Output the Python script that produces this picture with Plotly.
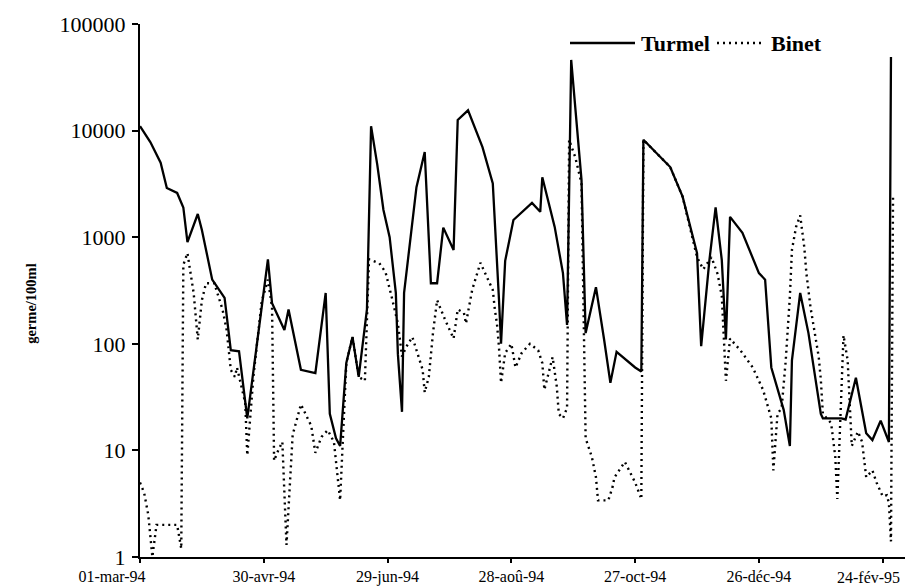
import pandas as pd
import plotly.graph_objects as go

start = pd.Timestamp("1994-03-01")

# Turmel (solid) : day offset from 01-mar-94, germe/100ml
turmel_days = [0, 5, 10, 13, 18, 21, 23, 28, 30, 35, 41, 44, 48, 51, 52, 62, 64, 70, 72, 78,
               85, 90, 92, 95, 97, 100, 103, 106, 110, 112, 115, 118, 121, 124, 125, 127, 128, 134, 138, 141,
               144, 147, 152, 154, 159, 166, 171, 174, 175, 177, 181, 190, 194, 195, 201, 205, 207, 209, 214, 216,
               221, 225, 228, 231, 240, 243, 244, 257, 263, 270, 272, 276, 279, 282, 284, 286, 292, 300, 303, 306,
               312, 315, 316, 320, 324, 330, 331, 340, 342, 347, 352, 355, 359, 363, 364]
turmel_vals = [11000, 7800, 5000, 2900, 2600, 1900, 900, 1650, 1170, 400, 270, 87, 85, 30, 20, 620, 240, 135, 210, 57,
               53, 300, 22, 13, 11, 66, 116, 49, 210, 11000, 4800, 1800, 1000, 300, 80, 23, 300, 2950, 6300, 370,
               370, 1230, 760, 12600, 15500, 7000, 3200, 260, 100, 600, 1450, 2100, 1730, 3650, 1250, 460, 150, 46000, 3450, 126,
               340, 108, 43, 84, 60, 55, 8200, 4550, 2400, 710, 95, 610, 1900, 610, 110, 1550, 1100, 460, 400, 60,
               24, 11, 70, 300, 126, 22, 20, 20, 19.5, 48, 14.5, 12.5, 19, 12, 49000]

# Binet (dotted)
binet_days = [0, 2, 4, 6, 8, 18, 20, 21, 23, 25, 26, 28, 30, 32, 36, 40, 42, 44, 46, 47,
              51, 52, 55, 59, 62, 64, 65, 67, 69, 71, 74, 78, 83, 85, 88, 91, 94, 97, 99, 100,
              103, 106, 109, 111, 116, 119, 122, 125, 127, 129, 132, 134, 137, 138, 140, 142, 144, 148, 152, 154,
              157, 158, 161, 165, 167, 171, 172, 173, 174, 175, 177, 180, 182, 185, 189, 193, 195, 196, 200, 202,
              203, 205, 207, 208, 211, 214, 216, 219, 221, 222, 227, 229, 230, 235, 240, 243, 244, 257, 263, 270,
              273, 277, 280, 282, 284, 286, 291, 297, 302, 306, 307, 309, 311, 313, 315, 316, 318, 320, 322, 323,
              325, 327, 329, 330, 331, 335, 337, 338, 341, 343, 344, 345, 348, 350, 352, 355, 357, 360, 362, 363,
              364, 365]
binet_vals = [5, 4, 2.5, 1, 2, 2, 1.2, 550, 710, 425, 300, 110, 257, 370, 370, 210, 135, 57, 49, 60,
              28, 9, 50, 250, 400, 220, 8, 10, 12, 1.3, 14, 27, 17, 9.5, 13.4, 15.5, 12, 3.4, 30, 66,
              116, 49, 45, 620, 570, 470, 275, 155, 76, 93, 116, 87, 57, 35, 49, 126, 257, 166, 112, 210,
              195, 155, 320, 575, 470, 320, 210, 155, 93, 43, 82, 100, 60, 82, 100, 87, 66, 37, 75, 40,
              22, 20, 25, 8200, 5600, 3200, 13, 8.7, 5.6, 3.4, 3.4, 4.5, 5.6, 7.8, 5, 3.5, 8200, 4550, 2400, 650,
              500, 650, 450, 280, 45, 112, 87, 60, 37, 20, 6.5, 22, 25, 70, 280, 760, 1250, 1600, 800, 460,
              220, 126, 75, 46, 22, 18, 8.7, 3.5, 120, 70, 28, 11, 15, 12, 5.6, 6.5, 5, 3.7, 3.8, 3.2,
              1.4, 2500]

series_names = ["Turmel", "Binet"]
tick_days = [0, 60, 120, 180, 240, 300, 360]
tick_labels = ["01-mar-94", "30-avr-94", "29-jun-94", "28-aoû-94", "27-oct-94", "26-déc-94", "24-fév-95"]
y_ticks = [1, 10, 100, 1000, 10000, 100000]

assert len(turmel_days) == len(turmel_vals)
assert len(binet_days) == len(binet_vals)

t_dates = start + pd.to_timedelta(turmel_days, unit="D")
b_dates = start + pd.to_timedelta(binet_days, unit="D")
tick_dates = start + pd.to_timedelta(tick_days, unit="D")

NB = "\u00a0"
tick_text = list(tick_labels)
tick_text[0] = tick_text[0] + NB * 14
tick_text[-1] = ""   # last label drawn as an annotation, pulled inside the page

serif = "Liberation Serif, Times New Roman, serif"
DOT = "2px,4px"

fig = go.Figure()
fig.add_trace(go.Scatter(x=t_dates, y=turmel_vals, mode="lines", name=series_names[0],
                         line=dict(color="black", width=2.3), showlegend=False))
fig.add_trace(go.Scatter(x=b_dates, y=binet_vals, mode="lines", name=series_names[1],
                         line=dict(color="black", width=2.4, dash=DOT), showlegend=False))

# hand-built legend (long sample lines, as in the original)
PW = 765.0
def px(x):
    return (x - 140) / PW
ly = (557 - 43) / 533.0
shapes = [
    dict(type="line", xref="paper", yref="paper", x0=px(570), x1=px(635), y0=ly, y1=ly,
         line=dict(color="black", width=2.3)),
    dict(type="line", xref="paper", yref="paper", x0=px(717), x1=px(765), y0=ly, y1=ly,
         line=dict(color="black", width=2.4, dash=DOT)),
]
annotations = [
    dict(text=series_names[0], xref="paper", yref="paper", x=px(639), y=ly, xanchor="left",
         yanchor="middle", showarrow=False, font=dict(family=serif, size=22, weight="bold")),
    dict(text=series_names[1], xref="paper", yref="paper", x=px(769), y=ly, xanchor="left",
         yanchor="middle", showarrow=False, font=dict(family=serif, size=22, weight="bold")),
    dict(text="germe/100ml", xref="paper", yref="paper",
         x=px(31), y=0.475, xanchor="center", yanchor="middle", textangle=-90, showarrow=False,
         font=dict(family=serif, size=14.5, weight="bold")),
    dict(text=tick_labels[-1], xref="x", yref="paper", x=tick_dates[-1], y=0,
         xanchor="center", yanchor="middle", xshift=-14, yshift=-20, showarrow=False,
         font=dict(family=serif, size=16)),
]

fig.update_layout(
    width=918, height=588,
    margin=dict(l=140, r=13, t=24, b=31, autoexpand=False),
    paper_bgcolor="white", plot_bgcolor="white",
    font=dict(family=serif, color="black"),
    showlegend=False,
    shapes=shapes,
    annotations=annotations,
)
fig.update_xaxes(
    type="date", automargin=False,
    range=[start, start + pd.Timedelta(days=370.8)],
    tickvals=tick_dates, ticktext=tick_text,
    showline=True, linecolor="black", linewidth=2,
    ticks="outside", ticklen=4, tickwidth=1.5, tickcolor="black",
    showgrid=False, zeroline=False,
    tickfont=dict(family=serif, size=16),
    tickangle=0, ticklabeloverflow="allow",
)
fig.update_yaxes(
    type="log", automargin=False, range=[0, 5],
    tickvals=y_ticks, ticktext=[str(v) for v in y_ticks],
    showline=True, linecolor="black", linewidth=2,
    ticks="outside", ticklen=6, tickwidth=1.5, tickcolor="black",
    showgrid=False, zeroline=False,
    tickfont=dict(family=serif, size=22),
    ticklabelstandoff=2,
)

fig.write_html("out.html")
